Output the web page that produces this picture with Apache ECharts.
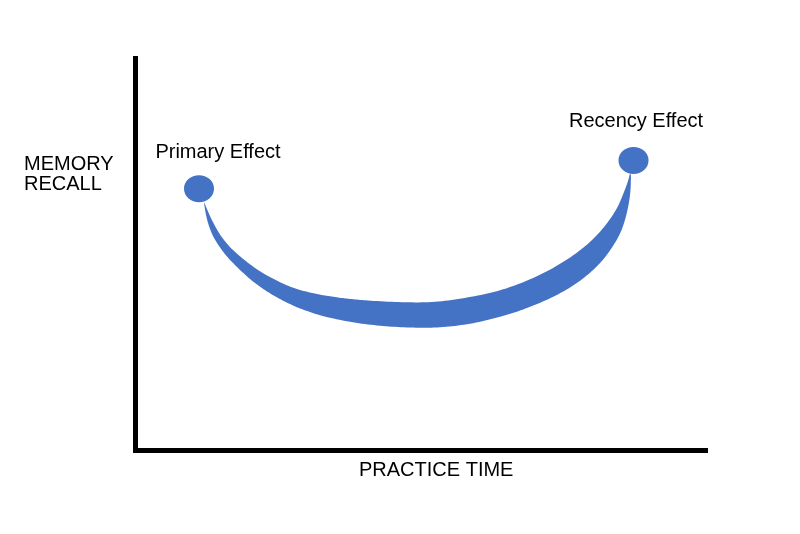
<!DOCTYPE html>
<html>
<head>
<meta charset="utf-8">
<script src="https://cdn.jsdelivr.net/npm/echarts@6/dist/echarts.min.js"></script>
<style>
html,body{margin:0;padding:0;background:#fff;}
#chart{width:800px;height:534px;}
</style>
</head>
<body>
<div id="chart"></div>
<script>
// Axis titles
var xAxisTitle = 'PRACTICE TIME';
var yAxisTitle = 'MEMORY\nRECALL';

// Curve band (memory recall vs practice time), upper edge left -> right
var upperX = [12.02, 13.07, 13.95, 15.00, 16.40, 17.98, 19.91, 22.19, 26.23, 28.86, 32.02, 35.00, 37.63, 40.79, 46.75, 52.54, 58.33, 63.95, 69.21, 73.60, 77.11, 80.09, 82.54, 84.47, 85.70, 86.40, 86.75];
var upperY = [63.39, 59.82, 57.27, 54.72, 52.17, 50.00, 47.70, 45.41, 42.35, 40.97, 39.87, 39.13, 38.67, 38.27, 37.83, 37.93, 39.08, 40.87, 43.67, 46.86, 50.13, 53.70, 57.65, 61.86, 65.94, 68.75, 70.66];
// lower edge left -> right
var lowerX = [12.02, 12.37, 12.89, 13.60, 14.65, 16.05, 17.81, 20.09, 22.19, 24.47, 27.11, 28.86, 32.37, 37.63, 42.89, 48.16, 53.42, 58.68, 63.95, 68.33, 72.72, 76.23, 79.39, 81.84, 83.77, 85.18, 86.05, 86.58, 86.84, 86.93];
var lowerY = [63.14, 60.08, 57.27, 54.72, 52.17, 49.49, 46.81, 43.75, 41.43, 39.34, 37.35, 36.25, 34.52, 32.83, 31.84, 31.38, 31.43, 32.35, 34.11, 36.15, 38.83, 41.58, 44.90, 48.39, 52.17, 55.94, 59.77, 63.39, 66.45, 70.28];

// End points
var pointNames = ['Primary Effect', 'Recency Effect'];
var pointX = [11.14, 87.37];
var pointY = [66.8, 74.0];

var BLUE = '#4472C4';
var FONT = 'Liberation Sans, Arial, sans-serif';

// centripetal Catmull-Rom smoothing of a screen-space polyline (drawing only)
function smoothPath(p, steps) {
  var out = [];
  var n = p.length;
  function get(i) { return p[Math.max(0, Math.min(n - 1, i))]; }
  function tj(ti, a, b) {
    var d = Math.sqrt((b[0]-a[0])*(b[0]-a[0]) + (b[1]-a[1])*(b[1]-a[1]));
    return ti + Math.max(Math.sqrt(d), 1e-4);
  }
  for (var i = 0; i < n - 1; i++) {
    var p0 = i === 0 ? [2*p[0][0]-p[1][0], 2*p[0][1]-p[1][1]] : get(i - 1);
    var p1 = get(i), p2 = get(i + 1);
    var p3 = i + 2 >= n ? [2*p[n-1][0]-p[n-2][0], 2*p[n-1][1]-p[n-2][1]] : get(i + 2);
    var t0 = 0, t1 = tj(t0, p0, p1), t2 = tj(t1, p1, p2), t3 = tj(t2, p2, p3);
    for (var s = 0; s < steps; s++) {
      var t = t1 + (t2 - t1) * s / steps;
      var pt = [];
      for (var k = 0; k < 2; k++) {
        var a1 = (t1-t)/(t1-t0)*p0[k] + (t-t0)/(t1-t0)*p1[k];
        var a2 = (t2-t)/(t2-t1)*p1[k] + (t-t1)/(t2-t1)*p2[k];
        var a3 = (t3-t)/(t3-t2)*p2[k] + (t-t2)/(t3-t2)*p3[k];
        var b1 = (t2-t)/(t2-t0)*a1 + (t-t0)/(t2-t0)*a2;
        var b2 = (t3-t)/(t3-t1)*a2 + (t-t1)/(t3-t1)*a3;
        pt.push((t2-t)/(t2-t1)*b1 + (t-t1)/(t2-t1)*b2);
      }
      out.push(pt);
    }
  }
  out.push(p[n - 1]);
  return out;
}

var chart = echarts.init(document.getElementById('chart'), null, {renderer: 'canvas'});

var labelOffsets = [[19, -36.5], [2.5, -38.5]];
var scatterData = pointNames.map(function (n, i) {
  return {
    name: n,
    value: [pointX[i], pointY[i]],
    label: {
      show: true,
      position: 'inside',
      offset: labelOffsets[i],
      formatter: '{b}',
      color: '#000',
      fontSize: 20,
      fontFamily: FONT
    }
  };
});

var option = {
  animation: false,
  backgroundColor: '#fff',
  title: [
    {
      text: yAxisTitle,
      left: 24, top: 154,
      padding: 0,
      textStyle: {fontSize: 20, lineHeight: 20, fontWeight: 'normal', color: '#000', fontFamily: FONT}
    },
    {
      text: xAxisTitle,
      left: 359, top: 460,
      padding: 0,
      textStyle: {fontSize: 20, lineHeight: 20, fontWeight: 'normal', color: '#000', fontFamily: FONT}
    }
  ],
  grid: {left: 135.5, right: 94.5, top: 58.5, bottom: 83.5},
  xAxis: {
    type: 'value', min: 0, max: 100,
    axisLine: {show: true, lineStyle: {color: '#000', width: 5, cap: 'square'}},
    axisTick: {show: false}, axisLabel: {show: false}, splitLine: {show: false}
  },
  yAxis: {
    type: 'value', min: 0, max: 100,
    axisLine: {show: true, lineStyle: {color: '#000', width: 5, cap: 'square'}},
    axisTick: {show: false}, axisLabel: {show: false}, splitLine: {show: false}
  },
  series: [
    {
      type: 'custom',
      clip: false,
      silent: true,
      data: [[0, 0]],
      renderItem: function (params, api) {
        var up = [], lo = [];
        for (var i = 0; i < upperX.length; i++) up.push(api.coord([upperX[i], upperY[i]]));
        for (var j = 0; j < lowerX.length; j++) lo.push(api.coord([lowerX[j], lowerY[j]]));
        var pts = smoothPath(up, 10).concat(smoothPath(lo, 10).reverse());
        return {
          type: 'polygon',
          shape: {points: pts},
          style: {fill: BLUE, stroke: null}
        };
      },
      z: 2
    },
    {
      type: 'scatter',
      symbol: 'circle',
      symbolSize: [30, 27],
      itemStyle: {color: BLUE, opacity: 1},
      data: scatterData,
      z: 3
    }
  ]
};
chart.setOption(option);
</script>
</body>
</html>
